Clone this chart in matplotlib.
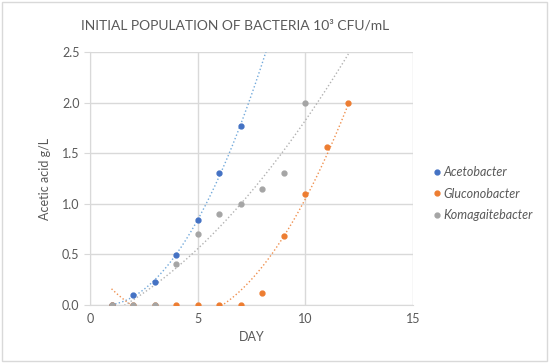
import numpy as np
import matplotlib
matplotlib.use("Agg")
import matplotlib.pyplot as plt
from matplotlib.patches import Rectangle

# data
days = [1, 2, 3, 4, 5, 6, 7, 8, 9, 10, 11, 12]
aceto_days = [1, 2, 3, 4, 5, 6, 7]
aceto = [0.0, 0.1, 0.23, 0.49, 0.84, 1.3, 1.77]
glucono_days = [1, 2, 3, 4, 5, 6, 7, 8, 9, 10, 11, 12]
glucono = [0.0, 0.0, 0.0, 0.0, 0.0, 0.0, 0.0, 0.12, 0.68, 1.1, 1.56, 2.0]
koma_days = [1, 2, 3, 4, 5, 6, 7, 8, 9, 10]
koma = [0.0, 0.0, 0.0, 0.41, 0.7, 0.9, 1.0, 1.15, 1.3, 2.0]

names = ["Acetobacter", "Gluconobacter", "Komagaitebacter"]
colors = ["#4472C4", "#ED7D31", "#A5A5A5"]
trend_colors = ["#5B9BD5", "#ED7D31", "#A5A5A5"]
x_ticks = [0, 5, 10, 15]
y_ticks = [0.0, 0.5, 1.0, 1.5, 2.0, 2.5]

plt.rcParams['font.family'] = ['Lato', 'DejaVu Sans']
text_col = "#595959"
grid_col = "#D9D9D9"

fig = plt.figure(figsize=(5.5, 3.63), dpi=100)
ax = fig.add_axes([90 / 550, 1 - 305 / 363, 323 / 550, 253 / 363])

series = [(aceto_days, aceto), (glucono_days, glucono), (koma_days, koma)]
xs = np.linspace(min(days), max(days), 300)
for (d, v), name, c, tc in zip(series, names, colors, trend_colors):
    ax.plot(d, v, 'o', color=c, markersize=3.5, label=name, zorder=3)
    # excel-style polynomial trendline
    coef = np.polyfit(d, v, 2)
    ax.plot(xs, np.polyval(coef, xs), ':', color=tc, lw=1, alpha=0.85, zorder=2)

ax.set_xlim(0, 15)
ax.set_ylim(0, 2.5)
ax.set_xticks(x_ticks)
ax.set_yticks(y_ticks)
ax.set_yticklabels([f"{t:.1f}" for t in y_ticks])
ax.grid(True, color=grid_col, lw=1)
ax.set_axisbelow(True)
for s in ["top", "right"]:
    ax.spines[s].set_visible(False)
for s in ["left", "bottom"]:
    ax.spines[s].set_color(grid_col)
ax.tick_params(axis='y', colors=text_col, labelsize=9, length=4, color=grid_col)
ax.tick_params(axis='x', colors=text_col, labelsize=9, length=0, pad=6)

ax.set_xlabel("DAY", color=text_col, fontsize=9, labelpad=4)
ax.set_ylabel("Acetic acid g/L", color=text_col, fontsize=9, labelpad=8)

fig.text(235 / 550, 1 - 25 / 363, "INITIAL POPULATION OF BACTERIA 10³ CFU/mL",
         ha='center', va='center', color=text_col, fontsize=10)

leg = ax.legend(loc='center left', bbox_to_anchor=(1.02, 0.44), frameon=False,
                handletextpad=0.0, handlelength=1.0, labelspacing=0.75,
                prop={'style': 'italic', 'size': 9})
for t in leg.get_texts():
    t.set_color(text_col)

fig.patches.append(Rectangle((0.003, 0.005), 0.992, 0.99, transform=fig.transFigure,
                             fill=False, edgecolor=grid_col, lw=1))

fig.savefig("out.png", dpi=100)
